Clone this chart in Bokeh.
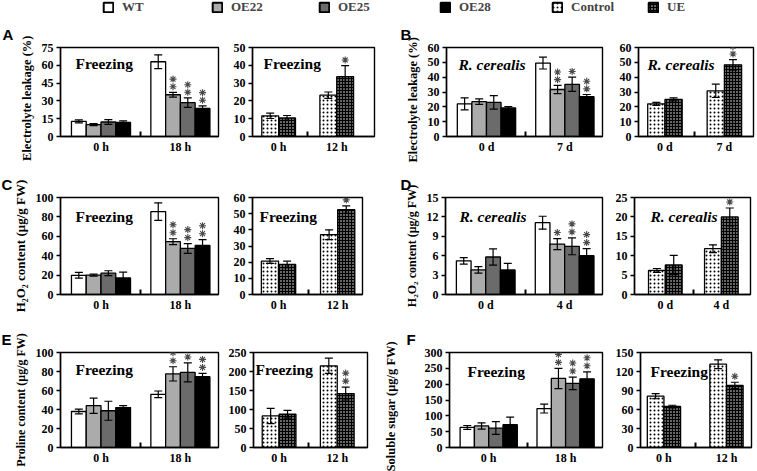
from bokeh.plotting import figure
from bokeh.layouts import column, row
from bokeh.models import (ColumnDataSource, Whisker, FixedTicker, Label, Legend,
                          LegendItem, Range1d, TeeHead)
from bokeh.embed import file_html
from bokeh.resources import INLINE

# ------------------------------------------------------------------ data
LINES4 = ["WT", "OE22", "OE25", "OE28"]
LINES2 = ["Control", "UE"]
X_FRZ4 = ["0 h", "18 h"]
X_FRZ2 = ["0 h", "12 h"]
X_RC_B = ["0 d", "7 d"]
X_RC_D = ["0 d", "4 d"]

# A: electrolyte leakage, freezing
A1_MEAN = [[12.7, 63.0], [10.0, 35.2], [12.2, 28.5], [11.8, 23.6]]
A1_ERR = [[1.3, 5.8], [0.8, 2.0], [2.0, 4.0], [1.3, 2.2]]
A1_STARS = [[0, 0], [0, 2], [0, 2], [0, 2]]
A2_MEAN = [[11.6, 23.2], [10.4, 33.6]]
A2_ERR = [[1.5, 1.8], [1.4, 6.2]]
A2_STARS = [[0, 0], [0, 1]]
A1_TICKS = [0, 15, 30, 45, 60, 75]
A2_TICKS = [0, 10, 20, 30, 40, 50]

# B: electrolyte leakage, R. cerealis
B1_MEAN = [[22.0, 49.5], [23.5, 31.7], [23.0, 35.2], [19.2, 26.8]]
B1_ERR = [[4.0, 4.0], [1.8, 2.8], [4.5, 4.8], [1.0, 1.5]]
B1_STARS = [[0, 0], [0, 2], [0, 1], [0, 2]]
B2_MEAN = [[22.0, 30.8], [25.0, 48.3]]
B2_ERR = [[1.0, 4.5], [1.0, 3.5]]
B2_STARS = [[0, 0], [0, 2]]
B1_TICKS = [0, 10, 20, 30, 40, 50, 60]
B2_TICKS = [0, 10, 20, 30, 40, 50, 60]

# C: H2O2, freezing
C1_MEAN = [[19.8, 85.5], [20.0, 54.5], [22.0, 47.5], [17.0, 50.5]]
C1_ERR = [[3.0, 9.0], [1.0, 3.0], [2.5, 5.0], [6.0, 6.0]]
C1_STARS = [[0, 0], [0, 2], [0, 2], [0, 2]]
C2_MEAN = [[20.7, 37.0], [18.6, 52.5]]
C2_ERR = [[1.5, 3.0], [2.0, 2.3]]
C2_STARS = [[0, 0], [0, 1]]
C1_TICKS = [0, 20, 40, 60, 80, 100]
C2_TICKS = [0, 10, 20, 30, 40, 50, 60]

# D: H2O2, R. cerealis
D1_MEAN = [[5.2, 11.1], [3.8, 7.8], [5.8, 7.45], [3.8, 6.0]]
D1_ERR = [[0.5, 1.0], [0.5, 0.85], [1.25, 1.3], [1.0, 1.1]]
D1_STARS = [[0, 0], [0, 1], [0, 2], [0, 2]]
D2_MEAN = [[6.2, 11.8], [7.6, 20.0]]
D2_ERR = [[0.5, 1.0], [2.5, 2.3]]
D2_STARS = [[0, 0], [0, 2]]
D1_TICKS = [0, 3, 6, 9, 12, 15]
D2_TICKS = [0, 5, 10, 15, 20, 25]

# E: proline, freezing
E1_MEAN = [[37.9, 56.0], [44.0, 77.5], [38.7, 79.0], [42.0, 74.5]]
E1_ERR = [[2.5, 3.5], [8.0, 7.5], [10.0, 10.0], [2.0, 3.5]]
E1_STARS = [[0, 0], [0, 2], [0, 2], [0, 2]]
E2_MEAN = [[83.0, 215.0], [87.5, 142.0]]
E2_ERR = [[20.0, 20.0], [10.0, 17.0]]
E2_STARS = [[0, 0], [0, 2]]
E1_TICKS = [0, 20, 40, 60, 80, 100]
E2_TICKS = [0, 50, 100, 150, 200, 250]

# F: soluble sugar, freezing
F1_MEAN = [[63.5, 123.0], [68.0, 218.0], [61.5, 202.5], [72.0, 217.0]]
F1_ERR = [[6.0, 14.0], [10.0, 32.0], [20.0, 20.0], [24.0, 22.0]]
F1_STARS = [[0, 0], [0, 2], [0, 2], [0, 2]]
F2_MEAN = [[81.0, 131.5], [64.7, 98.0]]
F2_ERR = [[4.0, 7.0], [2.0, 5.0]]
F2_STARS = [[0, 0], [0, 1]]
F1_TICKS = [0, 50, 100, 150, 200, 250, 300]
F2_TICKS = [0, 30, 60, 90, 120, 150]

# ------------------------------------------------------------------ styles
FONT = "Liberation Serif"
NB = "\u00a0"
STYLE4 = [dict(fill_color="white"), dict(fill_color="#ababab"),
          dict(fill_color="#6b6b6b"), dict(fill_color="black")]
STYLE2 = [dict(fill_color="white", hatch_pattern="dot", hatch_color="black",
               hatch_scale=4, hatch_weight=1),
          dict(fill_color="black", hatch_pattern="dot", hatch_color="white",
               hatch_scale=3, hatch_weight=1)]


def make_panel(w, h, bl, br, bt, bb, xr, ymax, yticks, xlabels, means, errs, stars,
               styles, bar_w, ylabel=None, ystand=5, yfs="12.5px", ypad=0, title=None,
               italic=False, tdx=12, tdy=8, letter=None, ldx=0):
    frame_h = h - bt - bb
    p = figure(width=w, height=h, x_range=Range1d(*xr), y_range=Range1d(0, ymax),
               output_backend="svg", toolbar_location=None,
               min_border_left=bl, min_border_right=br, min_border_top=bt,
               min_border_bottom=bb)
    p.xgrid.visible = False
    p.ygrid.visible = False
    p.outline_line_color = "black"
    p.outline_line_width = 1.4
    p.background_fill_color = "white"
    p.border_fill_color = "white"
    k = len(means)
    groups = [1, 2]
    px = ymax / frame_h  # data units per screen pixel
    for i, (m, e, s, st) in enumerate(zip(means, errs, stars, styles)):
        off = (i - (k - 1) / 2) * bar_w
        xs = [g + off for g in groups]
        hi = [a + b for a, b in zip(m, e)]
        lo = [a - b for a, b in zip(m, e)]
        src = ColumnDataSource(dict(x=xs, top=m, lo=lo, hi=hi))
        p.vbar(x="x", top="top", bottom=0, width=bar_w, source=src,
               line_color="black", line_width=1.3, **st)
        wh = Whisker(base="x", lower="lo", upper="hi", source=src, level="overlay",
                     line_color="black", line_width=1.2,
                     upper_head=TeeHead(size=8, line_width=1.2, line_color="black"),
                     lower_head=TeeHead(size=8, line_width=1.2, line_color="black"))
        p.add_layout(wh)
        sx, sy = [], []
        for xv, hv, n in zip(xs, hi, s):
            for j in range(n):
                sx.append(xv)
                sy.append(hv + (6 + 8 * j) * px)
        if sx:
            p.scatter(x=sx, y=sy, marker="asterisk", size=7, line_width=1.1,
                      line_color="#4a4a4a")

    p.yaxis.ticker = FixedTicker(ticks=yticks)
    p.xaxis.ticker = FixedTicker(ticks=[1, 2], minor_ticks=[1.5])
    p.xaxis.major_label_overrides = {1: xlabels[0], 2: xlabels[1]}
    for ax in p.axis:
        ax.axis_line_color = "black"
        ax.axis_line_width = 1.4
        ax.major_label_text_font = FONT
        ax.major_label_text_font_style = "bold"
        ax.major_label_text_font_size = "12px"
        ax.major_label_text_color = "black"
        ax.major_tick_line_color = "black"
        ax.major_tick_line_width = 1.3
        ax.major_label_standoff = 3
    p.xaxis.major_tick_in = 0
    p.xaxis.major_tick_out = 0
    p.xaxis.minor_tick_in = 5
    p.xaxis.minor_tick_out = 0
    p.xaxis.minor_tick_line_color = "black"
    p.xaxis.minor_tick_line_width = 2
    p.yaxis.major_tick_in = 0
    p.yaxis.major_tick_out = 4
    p.yaxis.minor_tick_line_color = None
    if ylabel:
        # trailing non-breaking spaces nudge the rotated label down as in the original
        p.yaxis.axis_label = ylabel + NB * ypad
        p.yaxis.axis_label_text_font = FONT
        p.yaxis.axis_label_text_font_style = "bold"
        p.yaxis.axis_label_text_font_size = yfs
        p.yaxis.axis_label_text_color = "black"
        p.yaxis.axis_label_standoff = ystand
    if title:
        p.add_layout(Label(x=xr[0], y=ymax, x_offset=tdx, y_offset=-tdy, text=title,
                           text_baseline="top", text_font=FONT,
                           text_font_style="bold italic" if italic else "bold",
                           text_font_size="15.5px", text_color="black"))
    if letter:
        p.title.text = letter
        p.title.align = "left"
        p.title.offset = ldx
        p.title.text_font = "Liberation Sans"
        p.title.text_font_style = "bold"
        p.title.text_font_size = "15px"
        p.title.text_color = "black"
    return p


LX = (0.49, 2.48)
BW4 = 0.186
BW2 = 0.29
EL = "Electrolyte leakage (%)"
H2 = "H\u2082O\u2082 content (\u03bcg/g FW)"

# row 1 (A, B)
h1 = (147, 24, 29)
a1 = make_panel(225, h1[0], 60, 7, h1[1], h1[2], LX, 75, A1_TICKS, X_FRZ4, A1_MEAN, A1_ERR,
                A1_STARS, STYLE4, BW4, ylabel=EL, ypad=4, title="Freezing", tdx=15, tdy=7,
                letter="A", ldx=-58)
a2 = make_panel(155, h1[0], 27, 6, h1[1], h1[2], (0.55, 2.65), 50, A2_TICKS, X_FRZ2, A2_MEAN,
                A2_ERR, A2_STARS, STYLE2, BW2, title="Freezing", tdx=11, tdy=7)
b1 = make_panel(232, h1[0], 66, 10, h1[1], h1[2], LX, 60, B1_TICKS, X_RC_B, B1_MEAN, B1_ERR,
                B1_STARS, STYLE4, BW4, ylabel=EL, ypad=5, title="R. cerealis", italic=True,
                tdx=12, tdy=8, letter="B", ldx=-46)
b2 = make_panel(145, h1[0], 26, 4, h1[1], h1[2], (0.555, 2.49), 60, B2_TICKS, X_RC_B, B2_MEAN,
                B2_ERR, B2_STARS, STYLE2, BW2, title="R. cerealis", italic=True, tdx=9, tdy=8)

# row 2 (C, D)
h2 = (155, 32, 26)
c1 = make_panel(225, h2[0], 60, 7, h2[1], h2[2], LX, 100, C1_TICKS, X_FRZ4, C1_MEAN, C1_ERR,
                C1_STARS, STYLE4, BW4, ylabel=H2, yfs="13px", title="Freezing",
                tdx=15, tdy=10, letter="C", ldx=-59)
c2 = make_panel(155, h2[0], 27, 18, h2[1], h2[2], (0.56, 2.42), 60, C2_TICKS, X_FRZ2, C2_MEAN,
                C2_ERR, C2_STARS, STYLE2, BW2, title="Freezing", tdx=7, tdy=10)
d1 = make_panel(232, h2[0], 65, 10, h2[1], h2[2], LX, 15, D1_TICKS, X_RC_D, D1_MEAN, D1_ERR,
                D1_STARS, STYLE4, BW4, ylabel=H2, yfs="12px", title="R. cerealis",
                italic=True, tdx=14, tdy=10, letter="D", ldx=-45)
d2 = make_panel(145, h2[0], 21, 7, h2[1], h2[2], (0.45, 2.52), 25, D2_TICKS, X_RC_D, D2_MEAN,
                D2_ERR, D2_STARS, STYLE2, 0.30, title="R. cerealis", italic=True, tdx=16, tdy=10)

# row 3 (E, F)
h3 = (151, 32, 24)
e1 = make_panel(225, h3[0], 60, 7, h3[1], h3[2], LX, 100, E1_TICKS, X_FRZ4, E1_MEAN, E1_ERR,
                E1_STARS, STYLE4, BW4, ylabel="Proline content (\u03bcg/g FW)", yfs="12px",
                title="Freezing", tdx=15, tdy=8, letter="E", ldx=-59)
e2 = make_panel(155, h3[0], 27, 13, h3[1], h3[2], (0.56, 2.52), 250, E2_TICKS, X_FRZ2, E2_MEAN,
                E2_ERR, E2_STARS, STYLE2, BW2, title="Freezing", tdx=2, tdy=8)
f1 = make_panel(232, h3[0], 65, 10, h3[1], h3[2], LX, 300, F1_TICKS, X_FRZ4, F1_MEAN, F1_ERR,
                F1_STARS, STYLE4, BW4, ylabel="Soluble sugar (\u03bcg/g FW)", ystand=24,
                ypad=4, title="Freezing", tdx=18, tdy=10, letter="F", ldx=-43)
f2 = make_panel(145, h3[0], 25, 6, h3[1], h3[2], (0.625, 2.40), 150, F2_TICKS, X_FRZ2, F2_MEAN,
                F2_ERR, F2_STARS, STYLE2, 0.266, title="Freezing", tdx=10, tdy=10)

# legend strip
lp = figure(width=757, height=18, x_range=Range1d(0, 1), y_range=Range1d(0, 1),
            output_backend="svg", toolbar_location=None,
            min_border_left=0, min_border_right=0, min_border_top=0, min_border_bottom=0)
lp.xaxis.visible = False
lp.yaxis.visible = False
lp.xgrid.visible = False
lp.ygrid.visible = False
lp.outline_line_color = None
LEG_X = [102, 211, 318, 439, 551, 647]
for name, st, lx in zip(LINES4 + LINES2, STYLE4 + STYLE2, LEG_X):
    # zero-size placeholder bar: only its legend swatch is seen
    r = lp.vbar(x=[0.5], top=[0], bottom=0, width=0, line_color="black", line_width=2, **st)
    leg = Legend(items=[LegendItem(label=name, renderers=[r])], location=(lx, 3),
                 orientation="horizontal", glyph_width=12, glyph_height=12,
                 label_standoff=8, padding=0, margin=0, spacing=0,
                 border_line_color=None, background_fill_alpha=0,
                 label_text_font=FONT, label_text_font_style="bold",
                 label_text_font_size="13px", label_height=14)
    lp.add_layout(leg)

layout = column(lp, row(a1, a2, b1, b2), row(c1, c2, d1, d2), row(e1, e2, f1, f2))

open("out.html", "w").write(file_html(layout, INLINE))
